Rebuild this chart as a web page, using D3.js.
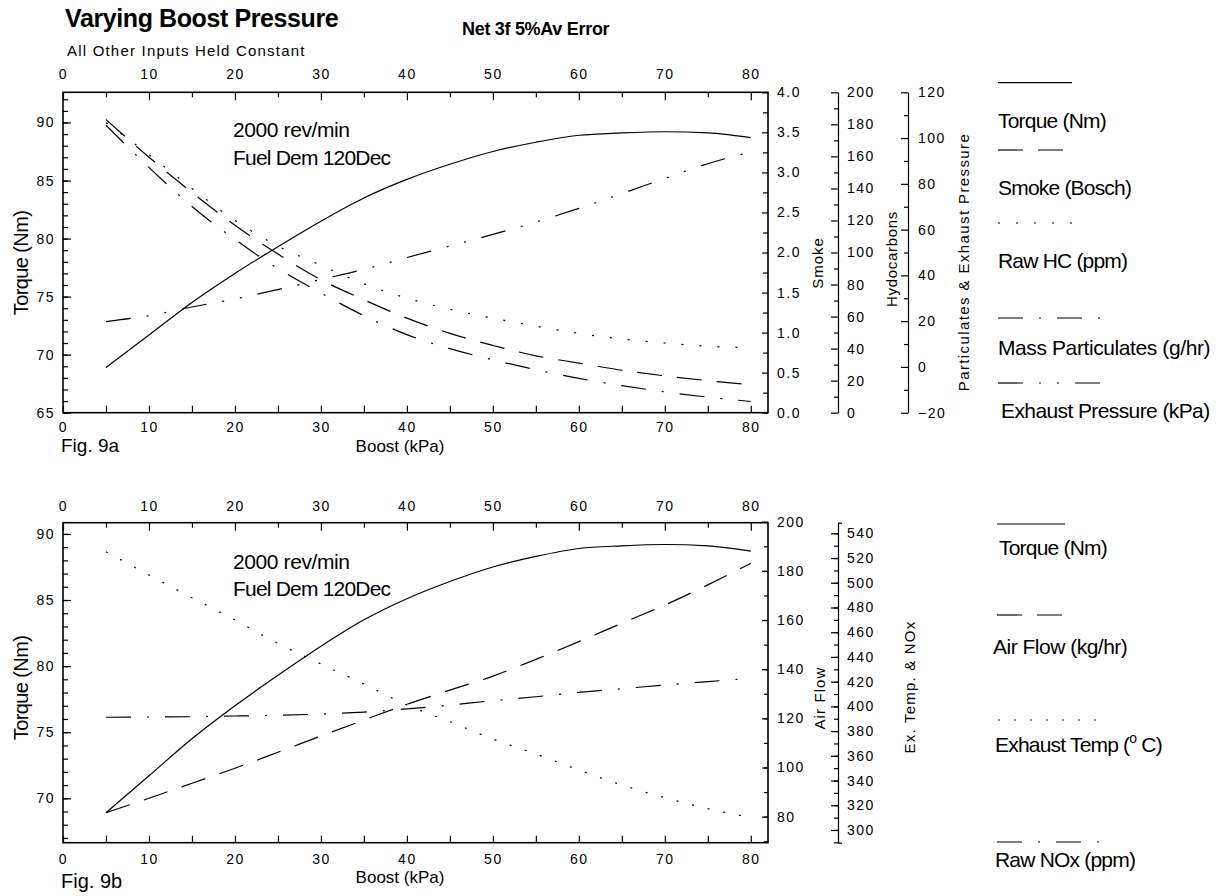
<!DOCTYPE html>
<html>
<head>
<meta charset="utf-8">
<script src="https://cdn.jsdelivr.net/npm/d3@7"></script>
<style>
  body { margin: 0; background: #fff; }
  svg { font-family: "Liberation Sans", Arial, sans-serif; }
</style>
</head>
<body>
<div id="chart"></div>
<script>
// boost pressure (kPa) at which the net was evaluated
const boost = [5, 10, 15, 20, 25, 30, 35, 40, 45, 50, 55, 60, 65, 70, 75, 80];

// Fig 9a
const torque   = [68.9, 71.7, 74.5, 77.0, 79.3, 81.5, 83.5, 85.1, 86.4, 87.5, 88.3, 88.9, 89.1, 89.2, 89.1, 88.7];
const smoke    = [3.66, 3.19, 2.75, 2.34, 1.98, 1.66, 1.41, 1.18, 0.99, 0.84, 0.71, 0.62, 0.53, 0.46, 0.40, 0.35];
const rawHC    = [181, 161, 140, 120, 104, 92, 80.5, 71.5, 64.5, 59, 54, 49.5, 46, 43.5, 41.5, 40.5];
const massPart = [105.6, 87.2, 70.1, 55.7, 43.0, 32.3, 22.4, 14.1, 8.0, 3.1, -1.2, -5.0, -8.2, -10.9, -13.2, -15.1];
const exhPress = [19.8, 22.4, 26.2, 29.7, 33.8, 38.2, 42.6, 47.8, 52.8, 57.9, 63.3, 69.3, 75.7, 82.4, 88.8, 93.9];

// Fig 9b (torque is the same curve)
const airFlow  = [81.6, 87.5, 93.6, 99.7, 106.2, 112.8, 119.3, 125.7, 131.5, 137.2, 144.0, 151.2, 158.7, 166.1, 174.3, 183.1];
const exhTemp  = [525.1, 506.3, 487.9, 469.9, 451.0, 434.3, 418.1, 401.1, 387.6, 373.6, 361.5, 348.5, 336.4, 326.1, 317.2, 310.2];
const rawNOx   = [391.2, 391.4, 391.6, 392.2, 392.8, 393.8, 395.4, 397.9, 401.1, 404.6, 407.8, 411.4, 414.3, 417.3, 420.0, 422.7];

// tick values
const boostTicks  = [0, 10, 20, 30, 40, 50, 60, 70, 80];
const torqueTicksA = [65, 70, 75, 80, 85, 90];
const torqueTicksB = [70, 75, 80, 85, 90];
const smokeTicks  = [0, 0.5, 1, 1.5, 2, 2.5, 3, 3.5, 4];
const hcTicks     = [0, 20, 40, 60, 80, 100, 120, 140, 160, 180, 200];
const partTicks   = [-20, 0, 20, 40, 60, 80, 100, 120];
const airTicks    = [80, 100, 120, 140, 160, 180, 200];
const tempTicks   = [300, 320, 340, 360, 380, 400, 420, 440, 460, 480, 500, 520, 540];

const dash = {
    solid: null,
    dashed: "25,15",
    dotted: "2,16",
    dotted2: "2,14",
    dashDot: "25,16,2,16",
    dashDotDot: "25,16,2,16,2,16"
};

const width = 1231, height = 896;
const left = 63, right = 768;

const svg = d3.select("#chart").append("svg")
    .attr("width", width)
    .attr("height", height);

const x = d3.scaleLinear().domain([0, 82]).range([left, right]);

function txt(x0, y0, s, size, opt = {}) {
    const t = svg.append("text")
        .attr("x", x0)
        .attr("y", y0)
        .attr("font-size", size)
        .attr("fill", "#000")
        .text(s);
    if (opt.bold) t.attr("font-weight", "bold");
    if (opt.ls !== undefined) t.attr("letter-spacing", opt.ls);
    if (opt.anchor) t.attr("text-anchor", opt.anchor);
    if (opt.rot) t.attr("transform", `rotate(-90,${x0},${y0})`).attr("text-anchor", "middle");
    return t;
}

function styleAxis(g, size) {
    g.attr("font-family", null).attr("font-size", size);
    g.selectAll("text").attr("letter-spacing", 1.5).attr("fill", "#000");
    g.selectAll("line").attr("stroke", "#000").attr("stroke-width", 1.2);
    g.selectAll("path").attr("stroke", "#000").attr("stroke-width", 1.2);
}

// axis with majors (labelled) and minors (plain)
function axis(kind, scale, pos, major, minor, fmt, opt = {}) {
    const majLen = opt.majLen || 7, minLen = opt.minLen || 4, pad = opt.pad || 9;
    const tr = kind === "left" || kind === "right" ? `translate(${pos},0)` : `translate(0,${pos})`;
    const mk = { left: d3.axisLeft, right: d3.axisRight, top: d3.axisTop, bottom: d3.axisBottom }[kind];
    const gMin = svg.append("g").attr("transform", tr)
        .call(mk(scale).tickValues(minor).tickFormat("").tickSizeInner(-minLen).tickSizeOuter(0));
    gMin.select(".domain").remove();
    styleAxis(gMin, 14);
    const gMaj = svg.append("g").attr("transform", tr)
        .call(mk(scale).tickValues(major).tickFormat(fmt).tickSizeInner(-majLen)
            .tickSizeOuter(opt.outer || 0).tickPadding(pad));
    if (!opt.keepDomain) gMaj.select(".domain").remove();
    styleAxis(gMaj, 14);
    return gMaj;
}

const line = (xs, ys, sy) => d3.line()
    .x((d, i) => x(xs[i]))
    .y(d => sy(d))
    .curve(d3.curveMonotoneX)(ys);

function series(ys, sy, pattern) {
    svg.append("path")
        .attr("d", line(boost, ys, sy))
        .attr("fill", "none")
        .attr("stroke", "#000")
        .attr("stroke-width", 1.2)
        .attr("stroke-dasharray", pattern);
}

function legendLine(x0, x1, y0, pattern) {
    svg.append("line")
        .attr("x1", x0).attr("x2", x1).attr("y1", y0).attr("y2", y0)
        .attr("stroke", "#000").attr("stroke-width", 1.2)
        .attr("stroke-dasharray", pattern);
}

const f0 = d3.format("d"), f1 = d3.format(".1f");

// ---------- Fig 9a ----------
{
    const top = 92.3, bot = 412.7;
    const yT = d3.scaleLinear().domain([65, 92.6]).range([bot, top]);
    const yS = d3.scaleLinear().domain([0, 4]).range([bot, top]);
    const yH = d3.scaleLinear().domain([0, 200]).range([bot, top]);
    const yP = d3.scaleLinear().domain([-20, 120]).range([bot, top]);

    axis("top", x, top, boostTicks, d3.range(5, 81, 10), f0, { pad: 13, majLen: 8, minLen: 5 });
    axis("bottom", x, bot, boostTicks, d3.range(5, 81, 10), f0, { pad: 9, majLen: 7, minLen: 7 });
    axis("left", yT, left, torqueTicksA, d3.range(65, 93), f0, { pad: 8, majLen: 8, minLen: 5 });
    axis("right", yS, right, smokeTicks, d3.range(0.25, 4, 0.5), f1, { pad: 9, majLen: 6, minLen: 5 });
    axis("right", yH, 838, hcTicks, d3.range(10, 200, 20), f0, { pad: 9, majLen: 7, minLen: 4, keepDomain: true });
    axis("right", yP, 908, partTicks, d3.range(-10, 120, 20), f0, { pad: 10, majLen: 7, minLen: 4, keepDomain: true });

    svg.append("rect").attr("x", left).attr("y", top).attr("width", right - left).attr("height", bot - top)
        .attr("fill", "none").attr("stroke", "#000").attr("stroke-width", 1.6);

    series(torque, yT, dash.solid);
    series(smoke, yS, dash.dashed);
    series(rawHC, yH, dash.dotted);
    series(massPart, yP, dash.dashDot);
    series(exhPress, yP, dash.dashDotDot);

    txt(233, 137, "2000 rev/min", 21, { ls: -0.4 });
    txt(233, 165, "Fuel Dem 120Dec", 21, { ls: -0.8 });

    txt(28, 263, "Torque (Nm)", 20, { rot: true, ls: -0.6 });
    txt(823, 263, "Smoke", 15, { rot: true, ls: 1 });
    txt(897, 259, "Hydocarbons", 15, { rot: true, ls: 0.7 });
    txt(969, 262, "Particulates & Exhaust Pressure", 15, { rot: true, ls: 1.4 });

    txt(61, 452, "Fig. 9a", 19);
    txt(400, 452, "Boost (kPa)", 17, { anchor: "middle" });

    // legend
    legendLine(998, 1072, 82.7, dash.solid);
    txt(998, 128, "Torque (Nm)", 21, { ls: -0.8 });
    legendLine(998, 1064, 150, dash.dashed);
    txt(998, 195, "Smoke (Bosch)", 21, { ls: -0.8 });
    legendLine(998, 1078, 223, dash.dotted);
    txt(998, 268, "Raw HC (ppm)", 21, { ls: -0.8 });
    legendLine(998, 1100, 318, dash.dashDot);
    txt(998, 355, "Mass Particulates (g/hr)", 21, { ls: -0.4 });
    legendLine(998, 1100, 383, dash.dashDotDot);
    txt(1001, 418, "Exhaust Pressure (kPa)", 21, { ls: -0.6 });
}

// ---------- Fig 9b ----------
{
    const top = 522.7, bot = 842.7;
    const yT = d3.scaleLinear().domain([66.64, 90.85]).range([bot, top]);
    const yA = d3.scaleLinear().domain([69.4, 199.6]).range([bot, top]);
    const yE = d3.scaleLinear().domain([289.7, 548.6]).range([bot, top]);

    axis("top", x, top, boostTicks, d3.range(5, 81, 10), f0, { pad: 12, majLen: 8, minLen: 5 });
    axis("bottom", x, bot, boostTicks, d3.range(5, 81, 10), f0, { pad: 11, majLen: 7, minLen: 7 });
    axis("left", yT, left, torqueTicksB, d3.range(67, 91), f0, { pad: 8, majLen: 8, minLen: 5 });
    axis("right", yA, right, airTicks, d3.range(70, 200, 10), f0, { pad: 9, majLen: 6, minLen: 4 });
    axis("right", yE, 838, tempTicks, d3.range(290, 550, 10), f0, { pad: 9, majLen: 7, minLen: 4, keepDomain: true, outer: 4 });

    svg.append("rect").attr("x", left).attr("y", top).attr("width", right - left).attr("height", bot - top)
        .attr("fill", "none").attr("stroke", "#000").attr("stroke-width", 1.6);

    series(torque, yT, dash.solid);
    series(airFlow, yA, dash.dashed);
    series(exhTemp, yE, dash.dotted2);
    series(rawNOx, yE, dash.dashDot);

    txt(233, 569, "2000 rev/min", 21, { ls: -0.4 });
    txt(233, 596, "Fuel Dem 120Dec", 21, { ls: -0.8 });

    txt(28, 688, "Torque (Nm)", 20, { rot: true, ls: -0.6 });
    txt(825, 698, "Air Flow", 15, { rot: true, ls: 1.1 });
    txt(915, 687, "Ex. Temp. & NOx", 15, { rot: true, ls: 1.2 });

    txt(61, 888, "Fig. 9b", 20);
    txt(400, 883, "Boost (kPa)", 17, { anchor: "middle" });

    legendLine(997, 1065, 524, dash.solid);
    txt(999, 555, "Torque (Nm)", 21, { ls: -0.8 });
    legendLine(997, 1064, 615, dash.dashed);
    txt(993, 654, "Air Flow (kg/hr)", 21, { ls: -0.5 });
    legendLine(998, 1096, 720, dash.dotted2);
    const et = txt(995, 752, "Exhaust Temp (", 21, { ls: -0.8 });
    et.append("tspan").attr("font-size", 14).attr("dy", -9).text("o");
    et.append("tspan").attr("dy", 9).text(" C)");
    legendLine(997, 1100, 842, dash.dashDot);
    txt(995, 867, "Raw NOx (ppm)", 21, { ls: -0.8 });
}

// ---------- titles ----------
txt(65, 27, "Varying Boost Pressure", 25, { bold: true, ls: -0.4 });
txt(67, 56, "All Other Inputs Held Constant", 15, { ls: 1.2 });
txt(462, 35, "Net 3f 5%Av Error", 18, { bold: true, ls: -0.3 });
</script>
</body>
</html>
